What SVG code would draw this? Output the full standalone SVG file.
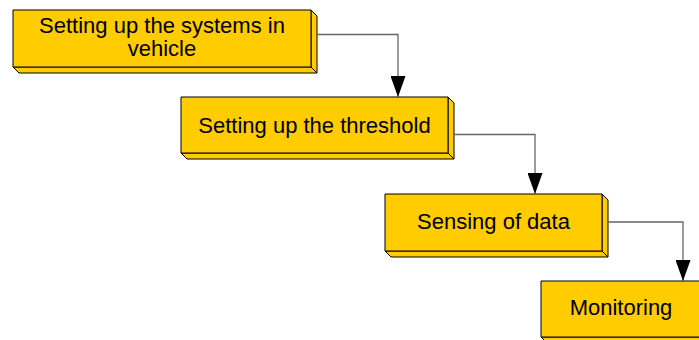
<svg xmlns="http://www.w3.org/2000/svg" width="699" height="340" viewBox="0 0 699 340">
  <style>
    .face { fill: #FFCC00; stroke: #000; stroke-width: 1; stroke-linejoin: round; }
    .label { font-family: "Liberation Sans", Arial, sans-serif; font-size: 22px; fill: #000; text-anchor: middle; }
    .wire { fill: none; stroke: #666; stroke-width: 1.3; }
  </style>
  <defs>
    <marker id="arrow" markerUnits="userSpaceOnUse" markerWidth="21" markerHeight="15" refX="21" refY="7.5" orient="auto" viewBox="0 0 21 15">
      <path d="M0,0 L21,7.5 L0,15 Z" fill="#000"/>
    </marker>
  </defs>
  <rect width="699" height="340" fill="#fff"/>

  <!-- step 1 -->
  <g id="step-setup-systems">
    <polygon class="face" points="311,10 317,16 317,73 311,67"/>
    <polygon class="face" points="13,67 311,67 317,73 19,73"/>
    <rect class="face" x="13" y="10" width="298" height="57"/>
    <text class="label" x="162" y="33">Setting up the systems in</text>
    <text class="label" x="162" y="56">vehicle</text>
  </g>

  <!-- step 2 -->
  <g id="step-threshold">
    <polygon class="face" points="448,97 454,103 454,159 448,153"/>
    <polygon class="face" points="181,153 448,153 454,159 187,159"/>
    <rect class="face" x="181" y="97" width="267" height="56"/>
    <text class="label" x="314.5" y="133">Setting up the threshold</text>
  </g>

  <!-- step 3 -->
  <g id="step-sensing">
    <polygon class="face" points="602,194 608,200 608,257 602,251"/>
    <polygon class="face" points="385,251 602,251 608,257 391,257"/>
    <rect class="face" x="385" y="194" width="217" height="57"/>
    <text class="label" x="493.5" y="228.5">Sensing of data</text>
  </g>

  <!-- step 4 -->
  <g id="step-monitoring">
    <polygon class="face" points="701,281 707,287 707,343 701,337"/>
    <polygon class="face" points="541,337 701,337 707,343 547,343"/>
    <rect class="face" x="541" y="281" width="160" height="56"/>
    <text class="label" x="621" y="315">Monitoring</text>
  </g>

  <!-- flow connectors -->
  <g id="connectors">
    <path class="wire" d="M317,34.5 H398 V97" marker-end="url(#arrow)"/>
    <path class="wire" d="M454,134.5 H535 V194" marker-end="url(#arrow)"/>
    <path class="wire" d="M608,222 H683 V281" marker-end="url(#arrow)"/>
  </g>
</svg>
